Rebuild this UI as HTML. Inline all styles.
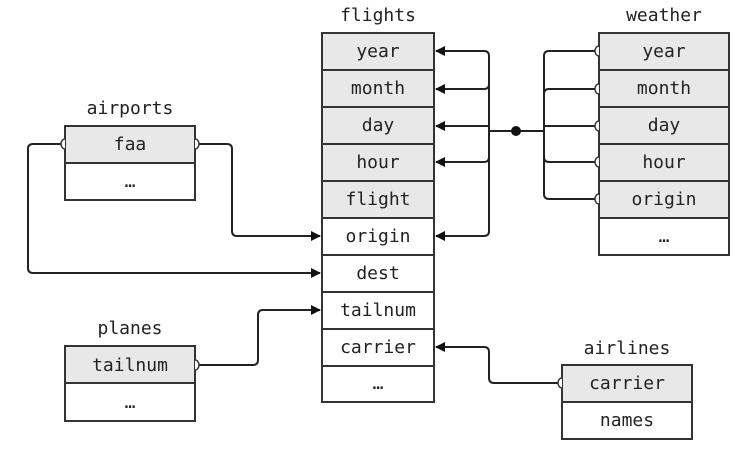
<!DOCTYPE html>
<html><head><meta charset="utf-8"><style>
html,body{margin:0;padding:0;background:#fff;}
svg{display:block;}
text{font-family:"DejaVu Sans Mono","Liberation Mono",monospace;font-size:18px;fill:#222;text-anchor:middle;}
</style></head><body>
<svg width="742" height="456" viewBox="0 0 742 456" xmlns="http://www.w3.org/2000/svg">
<defs>
<marker id="ar" markerWidth="10" markerHeight="10" refX="9" refY="5" orient="auto" markerUnits="userSpaceOnUse">
<path d="M0,0 L10,5 L0,10 z" fill="#111"/></marker>
</defs>
<g stroke="#333" stroke-width="2">
<!-- flights -->
<rect x="322" y="33" width="112" height="185" fill="#e8e8e8"/>
<rect x="322" y="218" width="112" height="184" fill="#fff"/>
<line x1="322" y1="70" x2="434" y2="70"/><line x1="322" y1="107" x2="434" y2="107"/>
<line x1="322" y1="144" x2="434" y2="144"/><line x1="322" y1="181" x2="434" y2="181"/>
<line x1="322" y1="218" x2="434" y2="218"/><line x1="322" y1="255" x2="434" y2="255"/>
<line x1="322" y1="292" x2="434" y2="292"/><line x1="322" y1="329" x2="434" y2="329"/>
<line x1="322" y1="366" x2="434" y2="366"/>
<!-- weather -->
<rect x="599" y="33" width="130" height="185" fill="#e8e8e8"/>
<rect x="599" y="218" width="130" height="37" fill="#fff"/>
<line x1="599" y1="70" x2="729" y2="70"/><line x1="599" y1="107" x2="729" y2="107"/>
<line x1="599" y1="144" x2="729" y2="144"/><line x1="599" y1="181" x2="729" y2="181"/>
<!-- airports -->
<rect x="65" y="126" width="130" height="37" fill="#e8e8e8"/>
<rect x="65" y="163" width="130" height="37" fill="#fff"/>
<!-- planes -->
<rect x="65" y="346" width="130" height="37" fill="#e8e8e8"/>
<rect x="65" y="383" width="130" height="38" fill="#fff"/>
<!-- airlines -->
<rect x="562" y="365" width="130" height="37" fill="#e8e8e8"/>
<rect x="562" y="402" width="130" height="37" fill="#fff"/>
</g>
<g fill="none" stroke="#222" stroke-width="2">
<!-- flights-weather -->
<path d="M484,51 Q489,51 489,56 L489,231 Q489,236 484,236 L436,236" marker-end="url(#ar)"/>
<path d="M484,51 L436,51" marker-end="url(#ar)"/>
<path d="M489,84 Q489,89 484,89 L436,89" marker-end="url(#ar)"/>
<path d="M489,126 L436,126" marker-end="url(#ar)"/>
<path d="M489,157 Q489,162 484,162 L436,162" marker-end="url(#ar)"/>
<path d="M489,131 L544,131"/>
<path d="M597,51 L549,51 Q544,51 544,56 L544,194 Q544,199 549,199 L597,199"/>
<path d="M544,94 Q544,89 549,89 L597,89"/>
<path d="M544,126 L597,126"/>
<path d="M544,157 Q544,162 549,162 L597,162"/>
<!-- airports -->
<path d="M197,144 L227,144 Q232,144 232,149 L232,231 Q232,236 237,236 L320,236" marker-end="url(#ar)"/>
<path d="M63,144 L33,144 Q28,144 28,149 L28,268 Q28,273 33,273 L320,273" marker-end="url(#ar)"/>
<!-- planes -->
<path d="M197,365 L253,365 Q258,365 258,360 L258,315 Q258,310 263,310 L320,310" marker-end="url(#ar)"/>
<!-- airlines -->
<path d="M560,383 L494,383 Q489,383 489,378 L489,352 Q489,347 484,347 L436,347" marker-end="url(#ar)"/>
</g>
<circle cx="516" cy="131" r="5" fill="#111"/>
<g fill="#fff" stroke="#333" stroke-width="1.5">
<path d="M599,46 A4,5 0 0 0 599,56"/><path d="M599,84 A4,5 0 0 0 599,94"/>
<path d="M599,121 A4,5 0 0 0 599,131"/><path d="M599,157 A4,5 0 0 0 599,167"/>
<path d="M599,194 A4,5 0 0 0 599,204"/>
<path d="M195,139 A4,5 0 0 1 195,149"/><path d="M65,139 A4,5 0 0 0 65,149"/>
<path d="M195,360 A4,5 0 0 1 195,370"/><path d="M562,378 A4,5 0 0 0 562,388"/>
</g>
<text x="378" y="21">flights</text>
<text x="664" y="21">weather</text>
<text x="130" y="114">airports</text>
<text x="130" y="334">planes</text>
<text x="627" y="354">airlines</text>
<text x="378" y="57">year</text><text x="378" y="94">month</text><text x="378" y="131">day</text>
<text x="378" y="168">hour</text><text x="378" y="205">flight</text><text x="378" y="242">origin</text>
<text x="378" y="279">dest</text><text x="378" y="316">tailnum</text><text x="378" y="353">carrier</text>
<text x="378" y="389">…</text>
<text x="664" y="57">year</text><text x="664" y="94">month</text><text x="664" y="131">day</text>
<text x="664" y="168">hour</text><text x="664" y="205">origin</text><text x="664" y="242">…</text>
<text x="130" y="150">faa</text><text x="130" y="187">…</text>
<text x="130" y="371">tailnum</text><text x="130" y="408">…</text>
<text x="627" y="389">carrier</text><text x="627" y="426">names</text>
</svg>
</body></html>
